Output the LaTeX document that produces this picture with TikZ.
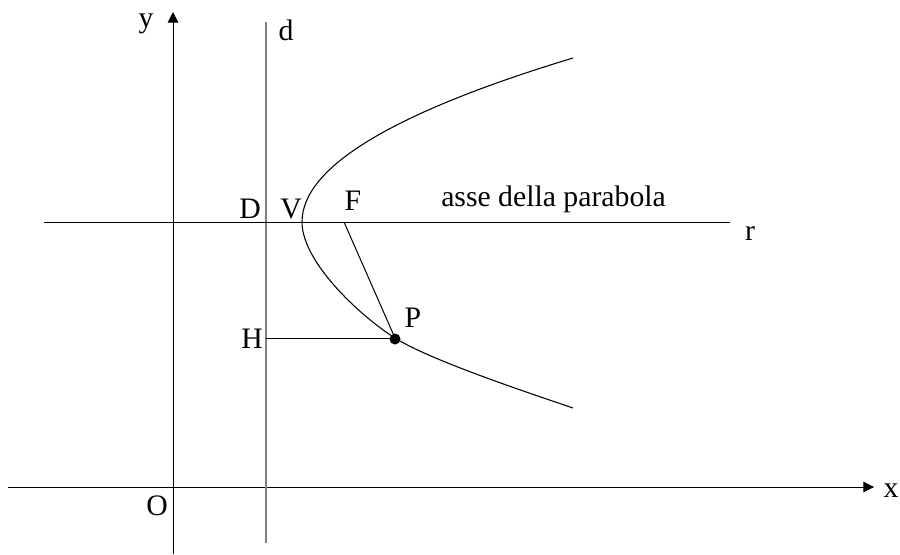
\documentclass[tikz,border=0pt]{standalone}
\usepackage{fontspec}
\setmainfont{Liberation Serif}
\usetikzlibrary{arrows.meta, positioning, calc}
\definecolor{cline}{RGB}{0, 0, 0}
\definecolor{cdir} {RGB}{128, 128, 128}
\tikzset{
  axis/.style  = {draw=cline, line width=0.75pt, -{Triangle[length=8pt, width=8pt]}},
  thin/.style  = {draw=cline, line width=0.75pt},
  dirx/.style  = {draw=cdir,  line width=1pt},
  curve/.style = {draw=cline, line width=0.8pt},
  lbl/.style   = {inner sep=0pt, anchor=base, font=\fontsize{22.3}{25}\selectfont}
}

\begin{document}
\begin{tikzpicture}[x=0.75pt, y=-0.75pt]
\useasboundingbox (0,0) rectangle (900,554);

% ── Points (pixel grid, y downwards) ──────────────────────────────────────
\coordinate (O)  at (173, 487);
\coordinate (D)  at (266, 222);
\coordinate (V)  at (302, 222);
\coordinate (F)  at (344, 222);
\coordinate (P)  at (395, 338);
\coordinate (H)  at (266, 338);
\coordinate (U)  at (573, 58);   % upper end of the curve
\coordinate (L)  at (573, 408);  % lower end of the curve

% ── Axes ───────────────────────────────────────────────────────────────────
\coordinate (xs) at (8, 487);    \coordinate (xe) at (874, 487);
\coordinate (ys) at (173, 554);  \coordinate (ye) at (173, 12);
\draw[axis] (xs) -- (xe);
\draw[axis] (ys) -- (ye);

% ── Directrix d and axis r ─────────────────────────────────────────────────
\coordinate (ds) at (266, 22);   \coordinate (de) at (266, 543);
\coordinate (rs) at (44, 222);   \coordinate (re) at (730, 222);
\draw[dirx] (ds) -- (de);
\draw[thin] (rs) -- (re);

% ── Parabola ───────────────────────────────────────────────────────────────
\draw[curve] (U) .. controls (392.3,112.7) and (302,167.3) .. (V)
                 .. controls (302,262) and (360,316) .. (P)
                 .. controls (430,360) and (523,391) .. (L);

% ── Segments PH and PF ─────────────────────────────────────────────────────
\draw[thin] (H) -- (P);
\draw[thin] (F) -- (P);
\fill (P) ++(0,1) circle (5.5);

% ── Labels ─────────────────────────────────────────────────────────────────
\node[lbl] (ly) at (146, 27)  {y};
\node[lbl] (lx) at (891, 497) {x};
\node[lbl] (lo) at (157, 515) {O};
\node[lbl] (ld) at (286, 40)  {d};
\node[lbl] (lD) at (250, 218) {D};
\node[lbl] (lV) at (291, 218) {V};
\node[lbl] (lF) at (353, 210) {F};
\node[lbl] (lr) at (750, 240) {r};
\node[lbl] (lH) at (252, 348) {H};
\node[lbl] (lP) at (413, 327) {P};
\node[lbl, anchor=base west] (la) at (441, 206) {asse della parabola};

\end{tikzpicture}
\end{document}
